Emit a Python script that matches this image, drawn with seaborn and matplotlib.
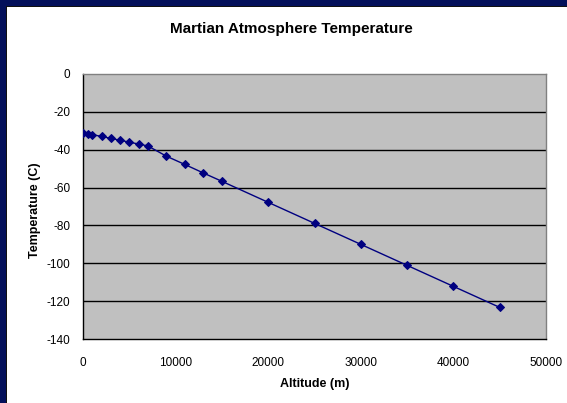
import matplotlib
matplotlib.use("Agg")
import matplotlib.pyplot as plt
from matplotlib.patches import Rectangle
import seaborn as sns
import pandas as pd

# Altitude (m) and temperature (C) of the Martian atmosphere model
altitude_m = [0, 500, 1000, 2000, 3000, 4000, 5000, 6000, 7000, 9000,
              11000, 13000, 15000, 20000, 25000, 30000, 35000, 40000, 45000]
temperature_c = [-31.0, -31.5, -32.0, -33.0, -34.0, -35.0, -36.0, -37.0, -38.0, -43.4,
                 -47.8, -52.3, -56.7, -67.8, -78.9, -90.0, -101.1, -112.2, -123.3]
x_ticks = [0, 10000, 20000, 30000, 40000, 50000]
y_ticks = [0, -20, -40, -60, -80, -100, -120, -140]

sns.set_theme(style="white")
plt.rcParams["font.family"] = ["Liberation Sans", "DejaVu Sans"]
plt.rcParams["text.color"] = "black"
plt.rcParams["axes.labelcolor"] = "black"

df = pd.DataFrame({"Altitude (m)": altitude_m, "Temperature (C)": temperature_c})

W, H = 567, 403
fig = plt.figure(figsize=(W / 100, H / 100), dpi=100, facecolor="white")

# navy frame along the left and top edges
navy = "#03105a"
fig.patches.append(Rectangle((0, 0), 6 / W, 1, transform=fig.transFigure,
                             facecolor=navy, edgecolor="none", zorder=0))
fig.patches.append(Rectangle((0, 1 - 6 / H), 1, 6 / H, transform=fig.transFigure,
                             facecolor=navy, edgecolor="none", zorder=0))
fig.patches.append(Rectangle((6 / W, 0), 1.2 / W, 1 - 6 / H, transform=fig.transFigure,
                             facecolor="#111111", edgecolor="none", zorder=0))
fig.patches.append(Rectangle((6 / W, 1 - 7.2 / H), 1 - 6 / W, 1.2 / H, transform=fig.transFigure,
                             facecolor="#111111", edgecolor="none", zorder=0))

left, right, top, bottom = 83, 546, 74, 339
ax = fig.add_axes([left / W, 1 - bottom / H, (right - left) / W, (bottom - top) / H])
ax.set_facecolor("#c0c0c0")

sns.lineplot(data=df, x="Altitude (m)", y="Temperature (C)", ax=ax,
             color="#000080", linewidth=1.0, marker="D", markersize=4.2,
             markeredgecolor="#000080", markerfacecolor="#000080", zorder=3)

ax.set_xlim(0, 50000)
ax.set_ylim(-140, 0)
ax.set_xticks(x_ticks)
ax.set_yticks(y_ticks)
ax.set_xticklabels([str(v) for v in x_ticks])
ax.set_yticklabels([str(v) for v in y_ticks])

for v in y_ticks[1:-1]:
    ax.axhline(v, color="black", linewidth=1.0, zorder=1)

for side in ("left", "bottom"):
    ax.spines[side].set_color("black")
    ax.spines[side].set_linewidth(1.0)
for side in ("top", "right"):
    ax.spines[side].set_color("#808080")
    ax.spines[side].set_linewidth(1.0)

ax.tick_params(axis="both", which="major", direction="out", length=4, width=1,
               color="black", labelsize=8.5, labelcolor="black")
ax.tick_params(axis="x", pad=9)
ax.tick_params(axis="y", pad=5)

ax.set_xlabel("Altitude (m)", fontsize=9, fontweight="bold", color="black")
ax.set_ylabel("Temperature (C)", fontsize=9, fontweight="bold", color="black")
ax.xaxis.label.set_va("baseline")
ax.xaxis.set_label_coords((315 - left) / (right - left), (bottom - 386.5) / (bottom - top))
ax.yaxis.label.set_va("center")
ax.yaxis.set_label_coords((35 - left) / (right - left), (bottom - 210) / (bottom - top))

fig.text(291 / W, 1 - 33.3 / H, "Martian Atmosphere Temperature", ha="center", va="baseline",
         fontsize=11, fontweight="bold", color="black")

fig.savefig("out.png", dpi=100, facecolor="white")
